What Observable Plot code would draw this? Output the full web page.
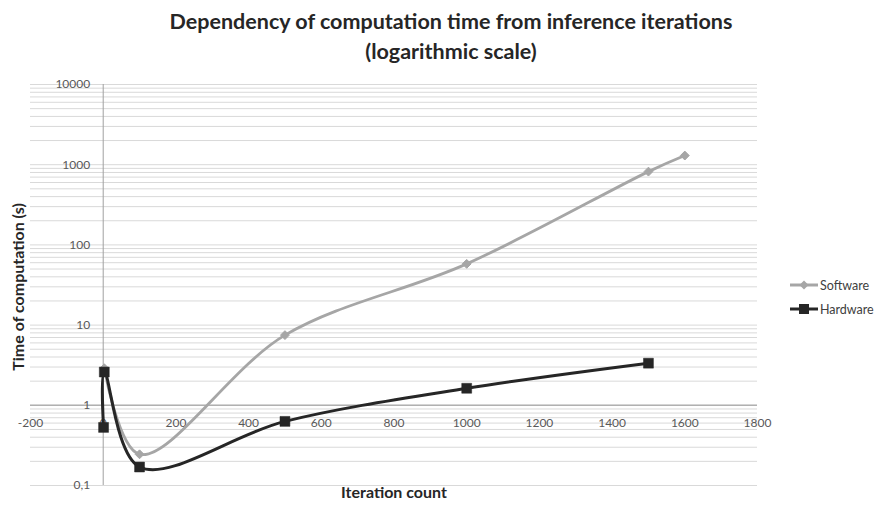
<!DOCTYPE html>
<html>
<head>
<meta charset="utf-8">
<script src="https://cdn.jsdelivr.net/npm/d3@7"></script>
<script src="https://cdn.jsdelivr.net/npm/@observablehq/plot@0.6"></script>
<style>
  html, body { margin: 0; padding: 0; background: #fff; }
  #wrap { position: relative; width: 877px; height: 506px; overflow: hidden; font-family: Lato, "Open Sans", sans-serif; }
  #title { height: 70px; box-sizing: border-box; padding-top: 6px; padding-left: 25px; text-align: center; font-weight: bold; font-size: 21.5px; line-height: 30px; color: #262626; white-space: nowrap; }
  #legend { position: absolute; left: 788px; top: 273px; font-size: 12.5px; color: #404040; }
  .li { display: flex; align-items: center; height: 24px; }
  .li svg { margin-right: 1px; }
</style>
</head>
<body>
<div id="wrap">
  <div id="title">Dependency of computation time from inference iterations<br>(logarithmic scale)</div>
  <div id="chart"></div>
  <div id="legend"></div>
</div>
<script>
// ---- data ----
const seriesNames = ["Software", "Hardware"];
const softwareX = [3, 100, 500, 1000, 1500, 1600];
const softwareY = [2.9, 0.245, 7.5, 58, 820, 1300];
const hardwareX = [1, 3, 100, 500, 1000, 1500];
const hardwareY = [0.53, 2.6, 0.17, 0.63, 1.63, 3.35];
const xTicks = [-200, 0, 200, 400, 600, 800, 1000, 1200, 1400, 1600, 1800];
const yTicks = [0.1, 1, 10, 100, 1000, 10000];
const xCross = 0;   // vertical axis crosses at x = 0
const yCross = 1;   // horizontal axis crosses at y = 1

const colors = {Software: "#a6a6a6", Hardware: "#262626"};

const software = softwareX.map((x, i) => ({series: "Software", x, y: softwareY[i]}));
const hardware = hardwareX.map((x, i) => ({series: "Hardware", x, y: hardwareY[i]}));

// minor log gridlines (1..9 x each decade)
const grid = [];
for (const t of yTicks.slice(0, -1)) for (let k = 1; k <= 9; k++) grid.push(+(t * k).toPrecision(3));
grid.push(yTicks[yTicks.length - 1]);

const fmtY = d => String(d).replace(".", ",");

const chart = Plot.plot({
  width: 877,
  height: 436,
  marginTop: 14,
  marginBottom: 21,
  marginLeft: 30,
  marginRight: 120,
  style: {fontFamily: "Lato, 'Open Sans', sans-serif", background: "#fff"},
  x: {domain: [-200, 1800], axis: null},
  y: {type: "log", domain: [0.1, 10000], axis: null},
  marks: [
    Plot.ruleY(grid, {stroke: "#d9d9d9", strokeWidth: 1}),
    Plot.ruleY([yCross], {stroke: "#b0b0b0", strokeWidth: 1.5}),
    Plot.ruleX([xCross], {stroke: "#a0a0a0", strokeWidth: 1}),
    Plot.text(yTicks, {x: () => xCross, y: d => d, text: fmtY, textAnchor: "end", dx: -13, fontSize: 12, fill: "#595959"}),
    Plot.text(xTicks, {x: d => d, y: () => yCross, text: d => String(d), dy: 18, fontSize: 12, fill: "#595959"}),
    Plot.line(software, {x: "x", y: "y", stroke: colors.Software, strokeWidth: 2.8, curve: "catmull-rom"}),
    Plot.dot(software, {x: "x", y: "y", symbol: "diamond2", r: 4, fill: colors.Software, stroke: colors.Software, strokeWidth: 1}),
    Plot.line(hardware, {x: "x", y: "y", stroke: colors.Hardware, strokeWidth: 3, curve: "catmull-rom"}),
    Plot.dot(hardware, {x: "x", y: "y", symbol: "square", r: 5.6, fill: colors.Hardware, stroke: colors.Hardware, strokeWidth: 0.5}),
    Plot.text(["Iteration count"], {frameAnchor: "bottom", textAnchor: "middle", dy: 12, fontWeight: "bold", fontSize: 16, fill: "#262626"}),
    Plot.text(["Time of computation (s)"], {frameAnchor: "left", textAnchor: "middle", rotate: -90, dx: -12, dy: 2, fontWeight: "bold", fontSize: 16, fill: "#262626"})
  ]
});
document.getElementById("chart").appendChild(chart);

// ---- legend ----
const legend = document.getElementById("legend");
for (const name of seriesNames) {
  const c = colors[name];
  const marker = name === "Software"
    ? `<path d="M16,1.5 L20.5,6 L16,10.5 L11.5,6 Z" fill="${c}"/>`
    : `<rect x="11" y="1" width="10" height="10" fill="${c}"/>`;
  const row = document.createElement("div");
  row.className = "li";
  row.innerHTML = `<svg width="31" height="12"><line x1="2" y1="6" x2="30" y2="6" stroke="${c}" stroke-width="3"/>${marker}</svg><span>${name}</span>`;
  legend.appendChild(row);
}
</script>
</body>
</html>
